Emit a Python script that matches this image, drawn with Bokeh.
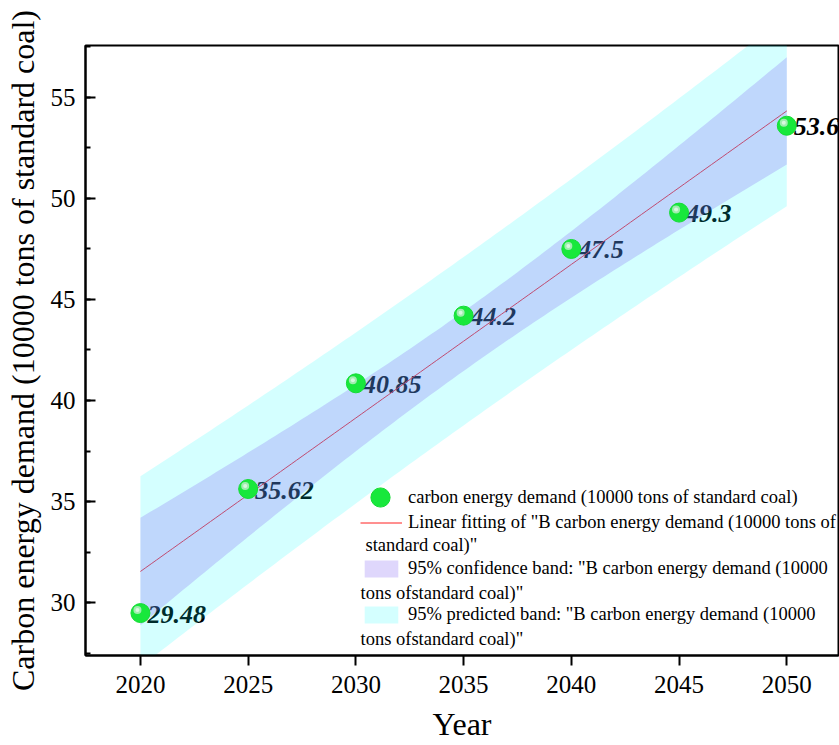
import numpy as np
from bokeh.plotting import figure
from bokeh.models import Range1d, Legend, LegendItem, FixedTicker, ColumnDataSource, Label
from bokeh.core.properties import value
from bokeh.embed import file_html
from bokeh.resources import INLINE

years = [2020, 2025, 2030, 2035, 2040, 2045, 2050]
demand = [29.48, 35.62, 40.85, 44.2, 47.5, 49.3, 53.6]
labels = ["29.48", "35.62", "40.85", "44.2", "47.5", "49.3", "53.6"]
x_ticks = [2020, 2025, 2030, 2035, 2040, 2045, 2050]
y_ticks = [30, 35, 40, 45, 50, 55]
y_minor = [27.5, 32.5, 37.5, 42.5, 47.5, 52.5, 57.5, 30, 35, 40, 45, 50, 55]
x_title = "Year"
y_title = "Carbon energy demand (10000 tons of standard coal)"

# linear fit with 95% confidence / prediction bands (OLS, t(0.975, 5))
xa = np.array(years, dtype=float)
ya = np.array(demand, dtype=float)
n = len(xa)
slope, intercept = np.polyfit(xa, ya, 1)
resid = ya - (slope * xa + intercept)
s = np.sqrt(np.sum(resid ** 2) / (n - 2))
t95 = 2.570582
sxx = np.sum((xa - xa.mean()) ** 2)
xf = np.linspace(xa.min(), xa.max(), 121)
yf = slope * xf + intercept
conf = t95 * s * np.sqrt(1.0 / n + (xf - xa.mean()) ** 2 / sxx)
pred = t95 * s * np.sqrt(1.0 + 1.0 / n + (xf - xa.mean()) ** 2 / sxx)

FONT = "Liberation Serif"
X0, X1, Y0, Y1 = 2017.45, 2052.4, 27.38, 57.57

p = figure(width=839, height=745, output_backend="svg", toolbar_location=None,
           x_range=Range1d(X0, X1), y_range=Range1d(Y0, Y1),
           min_border_left=85, min_border_right=1, min_border_top=45, min_border_bottom=90)
p.grid.visible = False
p.outline_line_color = "black"
p.outline_line_width = 2
p.background_fill_color = "white"
p.border_fill_color = "white"

src = ColumnDataSource(dict(x=years, y=demand, t=labels))

# data labels and fit line (drawn first, translucent bands lie over them)
p.text(x="x", y="y", text="t", source=src, x_offset=7, y_offset=1,
       text_font=value(FONT), text_font_style="bold italic", text_font_size="26px",
       text_color="black", text_align="left", text_baseline="middle")
fit_r = p.line(xf, yf, line_color="#ff2020", line_width=1)

pred_r = p.varea(x=xf, y1=yf - pred, y2=yf + pred, fill_color="#00ffff", fill_alpha=0.17)
conf_r = p.varea(x=xf, y1=yf - conf, y2=yf + conf, fill_color="#8060f5", fill_alpha=0.25)

pts_r = p.scatter(x="x", y="y", source=src, size=19, fill_color="#18e83c",
                  line_color="#14dc34", line_width=1)
dx = -3 * (X1 - X0) / 752.0
dy = 3 * (Y1 - Y0) / 610.0
p.scatter([v + dx for v in years], [v + dy for v in demand], size=8,
          fill_color="#d8efe0", fill_alpha=0.7, line_color=None)
p.scatter([v + dx for v in years], [v + dy for v in demand], size=4,
          fill_color="#ffffff", fill_alpha=0.6, line_color=None)

# axes
p.xaxis.ticker = FixedTicker(ticks=x_ticks)
p.yaxis.ticker = FixedTicker(ticks=y_ticks, minor_ticks=y_minor)
for ax in (p.xaxis[0], p.yaxis[0]):
    ax.axis_line_width = 2
    ax.major_tick_line_width = 2
    ax.minor_tick_line_width = 2
    ax.major_label_text_font = FONT
    ax.major_label_text_font_size = "25px"
    ax.major_label_text_color = "black"
    ax.axis_label_text_font = FONT
    ax.axis_label_text_font_size = "32px"
    ax.axis_label_text_font_style = "normal"
    ax.axis_label_text_color = "black"
p.xaxis.major_tick_in = 0
p.xaxis.major_tick_out = 10
p.xaxis.minor_tick_out = 0
p.xaxis.minor_tick_in = 0
p.xaxis.major_label_standoff = 10
p.xaxis.axis_label = x_title
p.xaxis.axis_label_standoff = 10
p.yaxis.major_tick_in = 10
p.yaxis.major_tick_out = 0
p.yaxis.minor_tick_in = 5
p.yaxis.minor_tick_out = 0
p.yaxis.major_label_standoff = 10
p.yaxis.axis_label = y_title
p.yaxis.axis_label_standoff = 7

LEG_SIZE = "18.5px"

def style_legend(lg):
    lg.label_text_font = FONT
    lg.label_text_font_size = LEG_SIZE
    lg.label_text_color = "black"
    lg.padding = 0
    lg.margin = 0
    lg.border_line_color = None
    lg.background_fill_alpha = 0
    lg.orientation = "vertical"

leg_a = Legend(items=[LegendItem(label="carbon energy demand (10000 tons of standard coal)",
                                 renderers=[pts_r])], location=(271, 134))
style_legend(leg_a)
leg_a.glyph_width = 48
leg_a.glyph_height = 48
leg_a.label_standoff = 4
p.add_layout(leg_a)

leg_b = Legend(items=[
    LegendItem(label='Linear fitting of "B carbon energy demand (10000 tons of', renderers=[fit_r]),
    LegendItem(label='95% confidence band: "B carbon energy demand (10000', renderers=[conf_r]),
    LegendItem(label='95% predicted band: "B carbon energy demand (10000', renderers=[pred_r]),
], location=(275, 30))
style_legend(leg_b)
leg_b.glyph_width = 42
leg_b.glyph_height = 21
leg_b.label_standoff = 6
leg_b.spacing = 25
p.add_layout(leg_b)

for txt, lx, ly in [('standard coal)"', 280, 111),
                    ('tons ofstandard coal)"', 275, 63),
                    ('tons ofstandard coal)"', 275, 17)]:
    p.add_layout(Label(x=lx, y=ly, x_units="screen", y_units="screen", text=txt,
                       text_font=FONT, text_font_size=LEG_SIZE, text_color="black",
                       text_baseline="middle", text_align="left"))

open("out.html", "w").write(file_html(p, INLINE))
